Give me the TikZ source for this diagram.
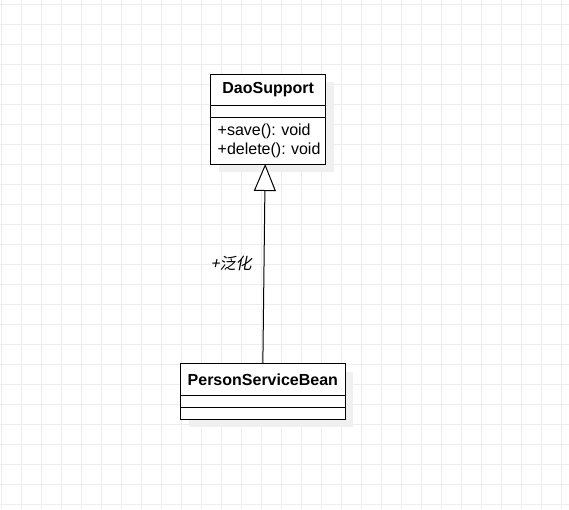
\documentclass[tikz,border=0pt]{standalone}
\usepackage{fontspec}
\setmainfont{Liberation Sans}
\newfontfamily\cjkfont[FakeSlant=0.2]{Noto Sans CJK SC}
\usetikzlibrary{positioning}
\usetikzlibrary{arrows.meta}
\usetikzlibrary{shadows}
\usetikzlibrary{calc}

\begin{document}
\begin{tikzpicture}[x=1pt, y=-1pt,
	gridline/.style={draw=black!7, line width=0.8pt},
	umlpart/.style={draw, line width=1pt, fill=white, inner sep=0pt, outer sep=0pt,
		font=\fontsize{16}{18.7}\selectfont,
		drop shadow={shadow xshift=8pt, shadow yshift=-8pt, fill=black!6, opacity=1}},
	generalize/.style={-{Triangle[open, length=27pt, width=22pt, fill=white]}, line width=1pt}]

	 % Set the size of the page and of the grid
	 \def\pagew{569}
	 \def\pageh{509}
	 \useasboundingbox (0,0) rectangle (\pagew,\pageh);
	 \fill[white] (0,0) rectangle (\pagew,\pageh);

	 % Background grid
	 \foreach \x in {1,21,...,561} {
	 	\draw[gridline] (\x,0) -- (\x,\pageh);
	 }
	 \foreach \y in {4,24,...,504} {
	 	\draw[gridline] (0,\y) -- (\pagew,\y);
	 }

	 % Class DaoSupport
	 \node[umlpart, minimum width=115pt, minimum height=31pt] (dao) at (268.2,89.5) {\bfseries DaoSupport};
	 \node[umlpart, minimum width=115pt, minimum height=12.3pt, below=0pt of dao] (daoattr) {};
	 \node[umlpart, minimum width=115pt, minimum height=46.7pt, inner xsep=7pt, text width=101pt, align=left, below=0pt of daoattr] (daoops) {+save():~void\\+delete():~void};

	 % Class PersonServiceBean
	 \node[umlpart, minimum width=164.3pt, minimum height=31.3pt] (bean) at (262.85,379.35) {\bfseries PersonServiceBean};
	 \node[umlpart, minimum width=164.3pt, minimum height=12.7pt, below=0pt of bean] (beanattr) {};
	 \node[umlpart, minimum width=164.3pt, minimum height=11.3pt, below=0pt of beanattr] (beanops) {};

	 % Generalization
	 \draw[generalize] (bean.north) to[] node[midway, left=12pt, inner sep=0pt, font=\cjkfont\fontsize{16}{18}\selectfont] (genlabel) {+泛化} ([xshift=-3pt]daoops.south);

\end{tikzpicture}
\end{document}
